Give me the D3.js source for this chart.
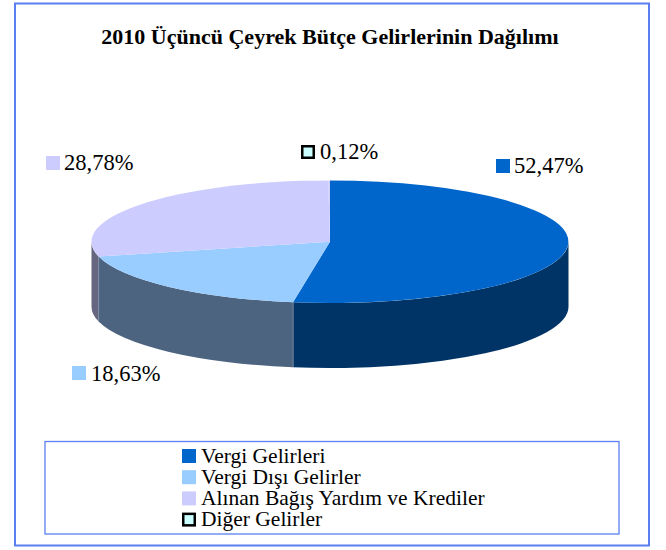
<!DOCTYPE html>
<html><head><meta charset="utf-8">
<script src="https://cdn.jsdelivr.net/npm/d3@7"></script>
<style>html,body{margin:0;padding:0;background:#fff}svg{display:block}text{font-family:"Liberation Serif",serif;fill:#000}</style>
</head><body><svg id="c" width="666" height="550"></svg>
<script>
const categories=["Vergi Gelirleri","Vergi Dışı Gelirler","Alınan Bağış Yardım ve Krediler","Diğer Gelirler"];
const values=[52.47,18.63,28.78,0.12];
const valueLabels=["52,47%","18,63%","28,78%","0,12%"];
const swatchColors=["#0066CC","#99CCFF","#CCCCFF","#CCFFFF"];
const faceColors=["#0066CC","#99CCFF","#CCCCFF","#CCCCFF"];
const sideColors=["#003366","#4D6480","#666680","#668080"];
const titleText="2010 Üçüncü Çeyrek Bütçe Gelirlerinin Dağılımı";

(function(){
const svg=d3.select("#c");
const cx=330,cy=241.7,rx=238.5,ry=61.3,depth=65;
const frame="#5B7FF0";
svg.append("rect").attr("x",15).attr("y",3.5).attr("width",634).attr("height",542).attr("fill","#fff").attr("stroke",frame).attr("stroke-width",2);
svg.append("text").attr("x",330).attr("y",43.5).attr("text-anchor","middle").attr("font-size",22).attr("font-weight","bold").text(titleText);

const pie=d3.pie().sort(null).value(d=>d)(values);
const px=a=>cx+rx*Math.sin(a), py=a=>cy-ry*Math.cos(a);
const g=svg.append("g");
pie.forEach((s,i)=>{
  const a0=Math.max(s.startAngle,Math.PI/2), a1=Math.min(s.endAngle,Math.PI*1.5);
  if(a1<=a0) return;
  const d=`M${px(a0)},${py(a0)}A${rx},${ry} 0 0 1 ${px(a1)},${py(a1)}L${px(a1)},${py(a1)+depth}A${rx},${ry} 0 0 0 ${px(a0)},${py(a0)+depth}Z`;
  g.append("path").attr("d",d).attr("fill",sideColors[i]);
});
[pie[0].endAngle,pie[1].endAngle].forEach(a=>{
  g.append("line").attr("x1",px(a)).attr("x2",px(a)).attr("y1",py(a)).attr("y2",py(a)+depth).attr("stroke","#8090A8").attr("stroke-width",0.7);
});
const arc=d3.arc().innerRadius(0).outerRadius(1);
const face=svg.append("g").attr("transform",`translate(${cx},${cy}) scale(${rx},${ry})`);
face.selectAll("path").data(pie).join("path").attr("d",arc).attr("fill",(d,i)=>faceColors[i]);

function swatch(x,y,i,size){
  const r=svg.append("rect").attr("fill",swatchColors[i]);
  if(i===3) r.attr("x",x+1.25).attr("y",y+1.25).attr("width",size-2.5).attr("height",size-2.5).attr("stroke","#000").attr("stroke-width",2.5);
  else r.attr("x",x).attr("y",y).attr("width",size).attr("height",size);
}
const labelPos=[[496,159,514,173],[72,366,91,381],[46,156,64,170],[301,145,320,158.5]];
pie.forEach((s,i)=>{
  const [sx,sy,tx,ty]=labelPos[i];
  swatch(sx,sy,i,14);
  svg.append("text").attr("x",tx).attr("y",ty).attr("font-size",22.5).text(valueLabels[i]);
});
svg.append("rect").attr("x",45).attr("y",441.5).attr("width",574).attr("height",92.5).attr("fill","#fff").attr("stroke",frame).attr("stroke-width",1.3);
categories.forEach((c,i)=>{
  const y=449+i*21.2;
  swatch(182,y,i,14);
  svg.append("text").attr("x",201).attr("y",y+13.5).attr("font-size",21.5).text(c);
});
})();
</script></body></html>
